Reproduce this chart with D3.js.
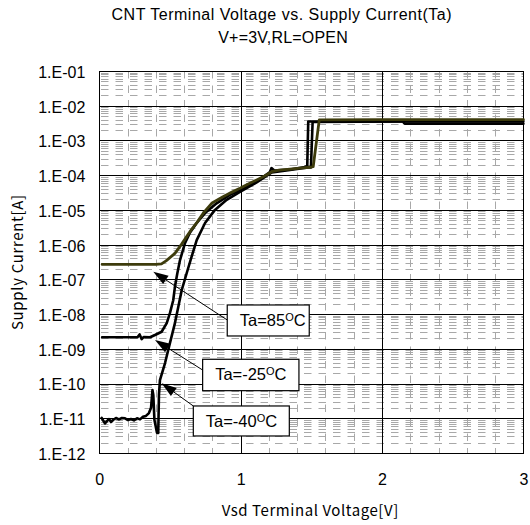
<!DOCTYPE html>
<html><head><meta charset="utf-8">
<script src="https://cdn.jsdelivr.net/npm/d3@7"></script>
<style>body{margin:0;background:#fff} svg{display:block}</style>
</head><body>
<svg id="c" width="530" height="525"></svg>
<script>
// ---- data ----
const titleLines = ["CNT Terminal Voltage vs. Supply Current(Ta)", "V+=3V,RL=OPEN"];
const xTitle = "Vsd Terminal Voltage[V]";
const yTitle = "Supply Current[A]";
const xTickValues = [0, 1, 2, 3];
const xTickLabels = ["0", "1", "2", "3"];
const yTickValues = [1e-12,1e-11,1e-10,1e-9,1e-8,1e-7,1e-6,1e-5,1e-4,1e-3,1e-2,1e-1];
const yTickLabels = ["1.E-12","1.E-11","1.E-10","1.E-09","1.E-08","1.E-07","1.E-06","1.E-05","1.E-04","1.E-03","1.E-02","1.E-01"];

// Ta=85C (olive)
const v85 = [0.02,0.10,0.20,0.30,0.40,0.44,0.472,0.535,0.58,0.618,0.641,0.69,0.735,0.795,0.875,0.935,0.995,1.05,1.113,1.17,1.22,1.27,1.349,1.42,1.49,1.513,1.556,2.0,2.5,3.0];
const i85 = [2.7e-7,2.7e-7,2.7e-7,2.7e-7,2.7e-7,2.8e-7,3.4e-7,5.6e-7,1.0e-6,1.7e-6,2.36e-6,4.3e-6,8.0e-6,1.55e-5,2.4e-5,3.2e-5,4.2e-5,5.5e-5,7.3e-5,9.5e-5,1.26e-4,1.4e-4,1.5e-4,1.6e-4,1.69e-4,1.75e-4,3.9e-3,4.0e-3,4.0e-3,4.0e-3];
// Ta=-25C (black)
const v25 = [0.02,0.10,0.20,0.27,0.285,0.30,0.315,0.359,0.394,0.441,0.477,0.50,0.523,0.535,0.552,0.571,0.606,0.641,0.689,0.748,0.83,0.924,0.995,1.113,1.205,1.218,1.24,1.349,1.455,1.471,1.478,2.148,2.16,3.0];
const i25 = [2.15e-9,2.15e-9,2.15e-9,2.15e-9,2.6e-9,1.9e-9,2.2e-9,2.15e-9,2.5e-9,3.1e-9,5.5e-9,1.08e-8,2.5e-8,6.1e-8,1.5e-7,3.6e-7,1.1e-6,2.2e-6,4.2e-6,8.1e-6,1.55e-5,2.7e-5,3.75e-5,6.5e-5,1.2e-4,1.6e-4,1.35e-4,1.46e-4,1.72e-4,1.85e-4,3.5e-3,3.5e-3,3.05e-3,3.05e-3];
// Ta=-40C (black)
const v40 = [0.017,0.03,0.04,0.054,0.069,0.083,0.097,0.118,0.139,0.16,0.182,0.203,0.224,0.245,0.267,0.288,0.309,0.33,0.351,0.366,0.376,0.382,0.39,0.408,0.417,0.422,0.429,0.465,0.5,0.535,0.559,0.583,0.618,0.653,0.689,0.748,0.818,0.901,0.995,1.113,1.22,1.349,1.476,1.497,1.509,2.148,3.0];
const i40 = [1.02e-11,8.3e-12,7.1e-12,8.3e-12,9.5e-12,7.8e-12,8.9e-12,1.02e-11,9.3e-12,1.02e-11,1.0e-11,8.9e-12,9.5e-12,8.7e-12,1.0e-11,9.3e-12,1.1e-11,1.17e-11,1.41e-11,2.0e-11,6.5e-11,4.7e-11,8.9e-12,3.8e-12,3.8e-12,4.7e-11,1.26e-10,3.9e-10,1.48e-9,5.5e-9,1.62e-8,4.9e-8,1.5e-7,4.5e-7,1.35e-6,4.2e-6,1.0e-5,1.95e-5,3.3e-5,6.2e-5,1.2e-4,1.41e-4,1.66e-4,1.66e-4,3.4e-3,3.55e-3,3.55e-3];

// annotations (data coordinates)
const annLabels = ["Ta=85", "Ta=-25", "Ta=-40"];
const annBoxV = [0.905, 0.731, 0.665];      // left edge voltage
const annBoxI = [1.83e-8, 5.0e-10, 2.26e-11]; // top edge current
const annFromV = [0.905, 0.731, 0.665];
const annFromI = [6.76e-9, 2.45e-10, 2.26e-11];
const annTipV = [0.382, 0.394, 0.441];
const annTipI = [1.66e-7, 1.8e-9, 1.02e-10];

// ---- styles ----
const W = {left: 99.3, right: 523.4, top: 71, bottom: 453};
const boxW = [82, 96.3, 96], boxH = [31, 31.4, 30];
const FONT = "'Liberation Sans', Arial, sans-serif";
const JFONT = "'Noto Sans CJK JP', sans-serif";

const svg = d3.select("#c");
const x = d3.scaleLinear().domain([0, 3]).range([W.left, W.right]);
const y = d3.scaleLog().domain([1e-12, 1e-1]).range([W.bottom, W.top]);

// minor grid
const minorY = [];
for (let k = -12; k < -1; k++) for (let m = 2; m <= 9; m++) minorY.push(m * Math.pow(10, k));
const minorX = d3.range(0, 3.0001, 0.2).filter(v => Math.abs(v - Math.round(v)) > 1e-6);
const grid = svg.append("g");
grid.selectAll("line.hm").data(minorY).join("line").attr("class","hm")
  .attr("x1", x(0)).attr("x2", x(3))
  .attr("y1", d => Math.round(y(d)) + 0.5).attr("y2", d => Math.round(y(d)) + 0.5)
  .attr("stroke", "#a8a8a8").attr("stroke-width", 1)
  .attr("stroke-dasharray", "7.5,7").attr("stroke-dashoffset", 12.8);
grid.selectAll("line.vm").data(minorX).join("line").attr("class","vm")
  .attr("y1", y(1e-1)).attr("y2", y(1e-12))
  .attr("x1", d => Math.round(x(d)) + 0.5).attr("x2", d => Math.round(x(d)) + 0.5)
  .attr("stroke", "#a8a8a8").attr("stroke-width", 1)
  .attr("stroke-dasharray", "7.5,7");
// major grid
grid.selectAll("line.hM").data(yTickValues.slice(1, -1)).join("line").attr("class","hM")
  .attr("x1", x(0)).attr("x2", x(3))
  .attr("y1", d => Math.round(y(d)) + 0.5).attr("y2", d => Math.round(y(d)) + 0.5)
  .attr("stroke", "#000").attr("stroke-width", 1);
grid.selectAll("line.vM").data(xTickValues.slice(1, -1)).join("line").attr("class","vM")
  .attr("y1", y(1e-1)).attr("y2", y(1e-12))
  .attr("x1", d => Math.round(x(d)) + 0.5).attr("x2", d => Math.round(x(d)) + 0.5)
  .attr("stroke", "#000").attr("stroke-width", 1);
svg.append("rect").attr("x", Math.round(x(0)) + 0.5).attr("y", Math.round(y(1e-1)) + 0.5)
  .attr("width", Math.round(x(3)) - Math.round(x(0))).attr("height", Math.round(y(1e-12)) - Math.round(y(1e-1)))
  .attr("fill", "none").attr("stroke", "#000").attr("stroke-width", 1);

// axes
const yAxis = svg.append("g").attr("transform", `translate(${W.left},0)`)
  .call(d3.axisLeft(y).tickValues(yTickValues).tickFormat((d, i) => yTickLabels[i]).tickSize(0).tickPadding(14));
yAxis.select(".domain").remove();
yAxis.selectAll("text").attr("font-family", FONT).attr("font-size", 16).attr("fill", "#000").attr("dy", "0.4em");
const xAxis = svg.append("g").attr("transform", `translate(0,${W.bottom})`)
  .call(d3.axisBottom(x).tickValues(xTickValues).tickFormat((d, i) => xTickLabels[i]).tickSize(0).tickPadding(20.5));
xAxis.select(".domain").remove();
xAxis.selectAll("text").attr("font-family", FONT).attr("font-size", 16).attr("fill", "#000");

// titles
svg.append("text").attr("x", 281.5).attr("y", 20).attr("text-anchor", "middle")
  .attr("font-family", FONT).attr("font-size", 16)
  .attr("textLength", 340).attr("lengthAdjust", "spacing").text(titleLines[0]);
svg.append("text").attr("x", 283).attr("y", 43).attr("text-anchor", "middle")
  .attr("font-family", FONT).attr("font-size", 16)
  .attr("textLength", 129.5).attr("lengthAdjust", "spacing").text(titleLines[1]);
svg.append("text").attr("x", 310).attr("y", 516).attr("text-anchor", "middle")
  .attr("font-family", JFONT).attr("font-size", 15)
  .attr("textLength", 176.5).attr("lengthAdjust", "spacing").text(xTitle);
svg.append("text").attr("transform", "translate(23,262.5) rotate(-90)").attr("text-anchor", "middle")
  .attr("font-family", JFONT).attr("font-size", 15)
  .attr("textLength", 135).attr("lengthAdjust", "spacing").text(yTitle);

// curves
const line = d3.line().x(d => x(d[0])).y(d => y(d[1]));
const series = [
  {v: v25, i: i25, color: "#000", w: 2.6},
  {v: v40, i: i40, color: "#000", w: 2.6},
  {v: v85, i: i85, color: "#3d3b0c", w: 2.8}
];
svg.append("g").selectAll("path").data(series).join("path")
  .attr("d", s => line(s.v.map((v, k) => [v, s.i[k]])))
  .attr("fill", "none").attr("stroke", s => s.color).attr("stroke-width", s => s.w)
  .attr("stroke-linejoin", "round").attr("stroke-linecap", "round");

// annotations
const ann = svg.append("g");
annLabels.forEach((lab, k) => {
  const fx = x(annFromV[k]), fy = y(annFromI[k]);
  const tx = x(annTipV[k]), ty = y(annTipI[k]);
  const ang = Math.atan2(ty - fy, tx - fx);
  const L = 15, H = 5;
  const bx = tx - L * Math.cos(ang), by = ty - L * Math.sin(ang);
  ann.append("line").attr("x1", fx).attr("y1", fy).attr("x2", bx).attr("y2", by)
    .attr("stroke", "#000").attr("stroke-width", 1);
  ann.append("polygon").attr("points", [
    [tx, ty],
    [bx + H * Math.sin(ang), by - H * Math.cos(ang)],
    [bx - H * Math.sin(ang), by + H * Math.cos(ang)]
  ].map(p => p.join(",")).join(" ")).attr("fill", "#000");
  const X0 = x(annBoxV[k]), Y0 = y(annBoxI[k]);
  ann.append("rect").attr("x", X0).attr("y", Y0).attr("width", boxW[k]).attr("height", boxH[k])
    .attr("fill", "#fff").attr("stroke", "#000").attr("stroke-width", 1.2);
  const t = ann.append("text").attr("x", X0 + 12.5).attr("y", Y0 + 21)
    .attr("font-family", FONT).attr("font-size", 16.5).attr("fill", "#000");
  t.append("tspan").text(lab);
  t.append("tspan").attr("font-size", 11).attr("dy", -5).text("O");
  t.append("tspan").attr("dy", 5).text("C");
});
</script>
</body></html>
